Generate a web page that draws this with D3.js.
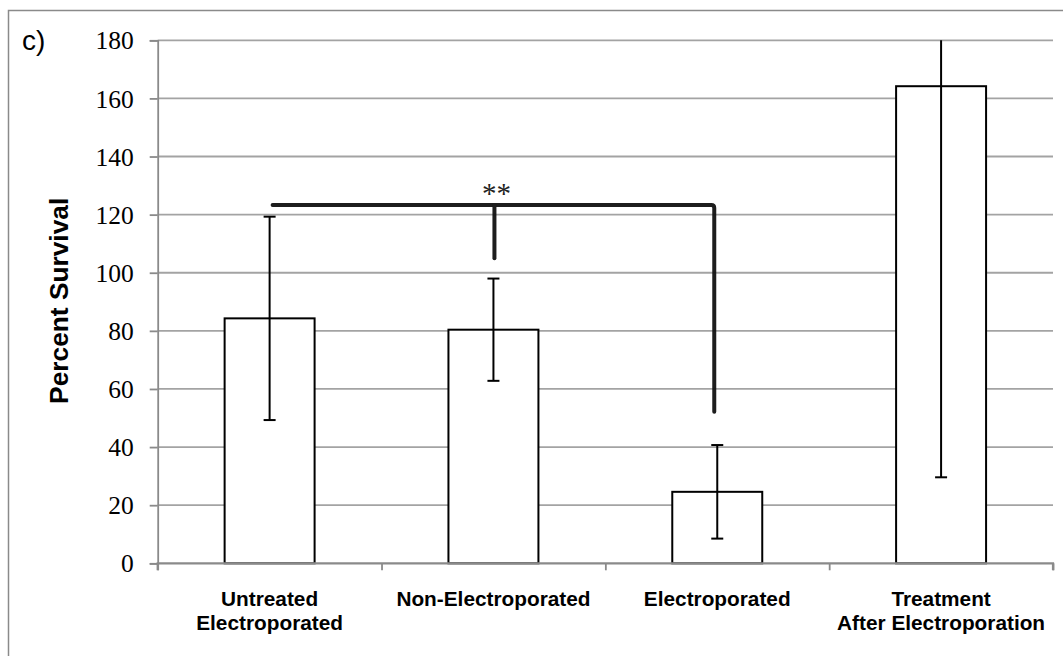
<!DOCTYPE html>
<html>
<head>
<meta charset="utf-8">
<script src="https://cdn.jsdelivr.net/npm/d3@7/dist/d3.min.js"></script>
<style>
  html, body { margin: 0; padding: 0; background: #fff; }
  svg { display: block; }
</style>
</head>
<body>
<svg id="chart" width="1063" height="656"></svg>
<script>
// ---- data ----
const categories = [["Untreated", "Electroporated"], ["Non-Electroporated"], ["Electroporated"], ["Treatment", "After Electroporation"]];
const values = [84.3, 80.4, 24.6, 164.2];
const errors = [35.0, 17.6, 16.1, 134.6];
const yTicks = [0, 20, 40, 60, 80, 100, 120, 140, 160, 180];
const bracketLevel = 123.3;
const bracketFrom = 0, bracketMid = 1, bracketTo = 2;
const bracketMidDrop = 105;
const bracketEndDrop = 52.2;
const sigLabel = "**";
const panelLabel = "c)";
const yTitle = "Percent Survival";

// ---- layout ----
const svg = d3.select("#chart");
const pLeft = 157.7, pRight = 1053, pTop = 40.3, pBottom = 563.3;

const x = d3.scaleBand().domain(d3.range(categories.length)).range([pLeft, pRight]).paddingInner(0).paddingOuter(0);
const y = d3.scaleLinear().domain([0, 180]).range([pBottom, pTop]);
const barW = x.bandwidth() * 0.402;
const cx = i => x(i) + x.bandwidth() / 2;
const clampY = v => y(Math.max(0, Math.min(180, v)));

// outer frame (left + top)
svg.append("path")
  .attr("d", `M8.5,656 L8.5,10.5 L1063,10.5`)
  .attr("fill", "none").attr("stroke", "#8a8a8a").attr("stroke-width", 1.5);

// gridlines
svg.append("g").selectAll("line").data(yTicks.filter(d => d > 0)).join("line")
  .attr("x1", pLeft).attr("x2", pRight)
  .attr("y1", d => y(d)).attr("y2", d => y(d))
  .attr("stroke", "#a3a3a3").attr("stroke-width", 1.8);

// y axis
const yAxis = d3.axisLeft(y).tickValues(yTicks).tickSize(8).tickPadding(16).tickFormat(d3.format("d"));
const gy = svg.append("g").attr("transform", `translate(${pLeft},0)`).call(yAxis);
gy.select(".domain").attr("stroke", "#8a8a8a").attr("stroke-width", 1.8);
gy.selectAll(".tick line").attr("stroke", "#8a8a8a").attr("stroke-width", 1.8);
gy.selectAll(".tick text")
  .attr("font-family", "'Liberation Serif', 'Times New Roman', serif")
  .attr("font-size", 25.5).attr("fill", "#000").attr("dy", "0.34em");

// bars
svg.append("g").selectAll("rect").data(values).join("rect")
  .attr("x", (d, i) => cx(i) - barW / 2)
  .attr("y", d => y(d))
  .attr("width", barW)
  .attr("height", d => y(0) - y(d))
  .attr("fill", "#fff").attr("stroke", "#000").attr("stroke-width", 2);

// x axis (bottom), drawn over bars
const xAxisScale = d3.scaleLinear().domain([0, categories.length]).range([pLeft, pRight]);
const gx = svg.append("g").attr("transform", `translate(0,${pBottom})`)
  .call(d3.axisBottom(xAxisScale).tickValues(d3.range(categories.length + 1)).tickSize(7).tickFormat(""));
gx.select(".domain").attr("stroke", "#8a8a8a").attr("stroke-width", 2.2).attr("d", `M${pLeft},7V0H${pRight}V7`);
gx.selectAll(".tick line").attr("stroke", "#8a8a8a").attr("stroke-width", 1.8);

// error bars
const eg = svg.append("g").attr("stroke", "#000").attr("stroke-width", 2);
values.forEach((v, i) => {
  const lo = v - errors[i], hi = v + errors[i];
  eg.append("line").attr("x1", cx(i)).attr("x2", cx(i)).attr("y1", clampY(lo)).attr("y2", clampY(hi));
  eg.append("line").attr("x1", cx(i) - 6).attr("x2", cx(i) + 6).attr("y1", clampY(lo)).attr("y2", clampY(lo));
  if (hi <= 180) {
    eg.append("line").attr("x1", cx(i) - 6).attr("x2", cx(i) + 6).attr("y1", clampY(hi)).attr("y2", clampY(hi));
  }
});

// category labels
const lab = svg.append("g")
  .attr("font-family", "'Liberation Sans', Arial, sans-serif")
  .attr("font-weight", "bold").attr("font-size", 20.8).attr("fill", "#000")
  .attr("text-anchor", "middle");
categories.forEach((lines, i) => {
  lines.forEach((t, j) => {
    lab.append("text").attr("x", cx(i)).attr("y", 605.5 + j * 24.8).text(t);
  });
});

// y title
svg.append("text")
  .attr("transform", `translate(68,${(196.7 + 405) / 2}) rotate(-90)`)
  .attr("text-anchor", "middle")
  .attr("font-family", "'Liberation Sans', Arial, sans-serif")
  .attr("font-weight", "bold").attr("font-size", 26.3).attr("fill", "#000")
  .text(yTitle);

// panel label
svg.append("text")
  .attr("x", 22).attr("y", 50)
  .attr("font-family", "'Liberation Sans', Arial, sans-serif")
  .attr("font-size", 28).attr("fill", "#000")
  .text(panelLabel);

// significance bracket
const bx0 = cx(bracketFrom) + 3, bxm = cx(bracketMid) + 1, bx1 = cx(bracketTo) - 3;
const by = y(bracketLevel);
const br = svg.append("g").attr("fill", "none").attr("stroke", "#111").attr("stroke-width", 4)
  .attr("stroke-linejoin", "round").attr("stroke-linecap", "round").attr("opacity", 0.95);
br.append("path").attr("d", `M${bx0},${by} H${bx1 - 3} Q${bx1},${by} ${bx1},${by + 3} V${y(bracketEndDrop)}`);
br.append("path").attr("d", `M${bxm},${by} V${y(bracketMidDrop)}`);

svg.append("text")
  .attr("x", bxm + 2).attr("y", 203)
  .attr("text-anchor", "middle")
  .attr("font-family", "'Liberation Serif', 'Times New Roman', serif")
  .attr("font-size", 29).attr("fill", "#222")
  .text(sigLabel);
</script>
</body>
</html>
